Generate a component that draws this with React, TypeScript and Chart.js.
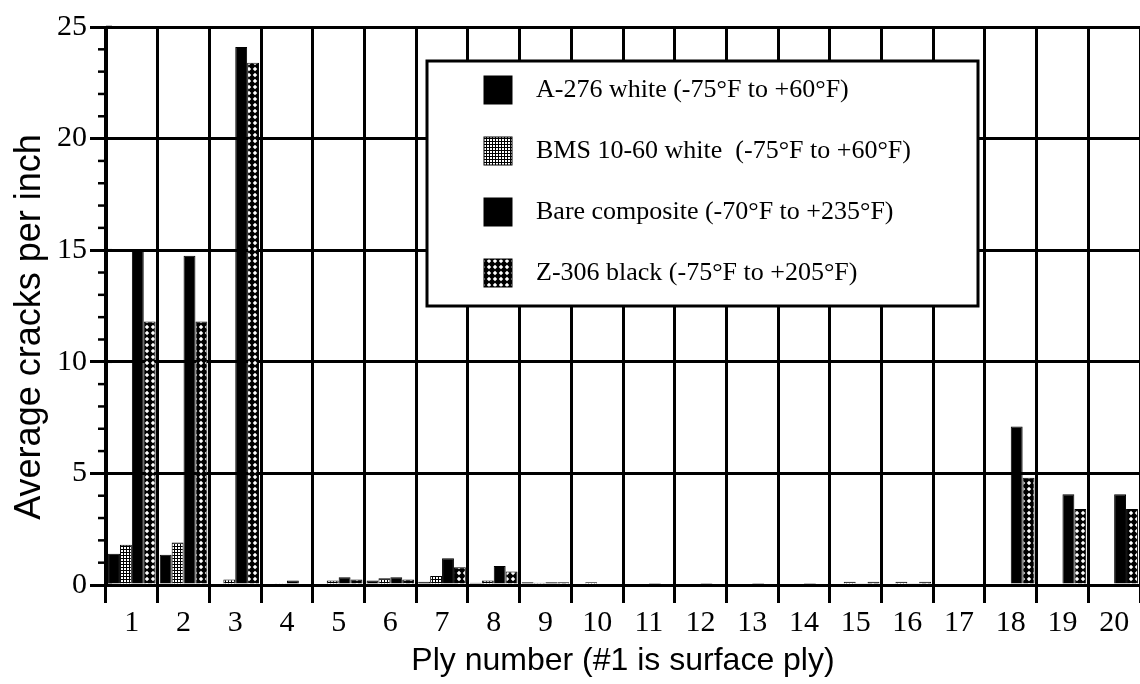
import React, { useEffect, useRef } from 'react';
import { Chart, registerables } from 'chart.js';

Chart.register(...registerables);

const plyLabels = ['1', '2', '3', '4', '5', '6', '7', '8', '9', '10', '11', '12', '13', '14', '15', '16', '17', '18', '19', '20'];
const a276White = [1.4, 1.35, 0, 0, 0, 0.2, 0.15, 0.1, 0.12, 0, 0, 0, 0, 0, 0, 0, 0, 0, 0, 0];
const bms1060White = [1.8, 1.9, 0.25, 0.08, 0.2, 0.3, 0.4, 0.2, 0.1, 0.12, 0, 0, 0, 0, 0.15, 0.15, 0, 0, 0, 0];
const bareComposite = [15.0, 14.75, 24.1, 0.2, 0.35, 0.35, 1.2, 0.85, 0.12, 0, 0.03, 0.03, 0.03, 0.03, 0.06, 0.06, 0, 7.1, 4.07, 4.07];
const z306Black = [11.8, 11.8, 23.4, 0, 0.25, 0.25, 0.8, 0.6, 0.12, 0, 0, 0, 0, 0, 0.15, 0.15, 0, 4.8, 3.4, 3.4];
const seriesNames = [
  'A-276 white (-75°F to +60°F)',
  'BMS 10-60 white  (-75°F to +60°F)',
  'Bare composite (-70°F to +235°F)',
  'Z-306 black (-75°F to +205°F)',
];
const xTitle = 'Ply number (#1 is surface ply)';
const yTitle = 'Average cracks per inch';
const yMin = 0;
const yMax = 25;
const yStep = 5;

function makeGridPattern(): CanvasPattern | string {
  const c = document.createElement('canvas');
  c.width = 3;
  c.height = 3;
  const g = c.getContext('2d');
  if (!g) return '#000';
  g.fillStyle = '#000';
  g.fillRect(0, 0, 3, 3);
  g.fillStyle = '#fff';
  g.fillRect(1, 1, 2, 2);
  return g.createPattern(c, 'repeat') || '#000';
}

function makeCrossPattern(): CanvasPattern | string {
  const c = document.createElement('canvas');
  c.width = 6;
  c.height = 6;
  const g = c.getContext('2d');
  if (!g) return '#000';
  g.fillStyle = '#000';
  g.fillRect(0, 0, 6, 6);
  g.fillStyle = '#fff';
  g.beginPath();
  g.moveTo(3, 0.8);
  g.lineTo(5.2, 3);
  g.lineTo(3, 5.2);
  g.lineTo(0.8, 3);
  g.closePath();
  g.fill();
  return g.createPattern(c, 'repeat') || '#000';
}

const axisExtras = {
  id: 'axisExtras',
  afterDraw(chart: any) {
    const y = chart.scales.y;
    const ctx = chart.ctx;
    ctx.save();
    ctx.strokeStyle = '#000';
    ctx.lineWidth = 2.5;
    for (let v = yMin; v <= yMax; v += 1) {
      const py = y.getPixelForValue(v);
      ctx.beginPath();
      if (v % yStep === 0) {
        ctx.moveTo(y.right, py);
        ctx.lineTo(y.right + 6, py);
      } else {
        ctx.moveTo(y.right - 8, py);
        ctx.lineTo(y.right, py);
      }
      ctx.stroke();
    }
    const cy = (y.top + y.bottom) / 2 + 21;
    ctx.translate(30, cy);
    ctx.rotate(-Math.PI / 2);
    ctx.fillStyle = '#000';
    ctx.font = '36px "Liberation Sans", Arial, sans-serif';
    ctx.textAlign = 'center';
    ctx.textBaseline = 'middle';
    ctx.fillText(yTitle, 0, 0);
    ctx.restore();
  },
};

const boxLegend = {
  id: 'boxLegend',
  afterDatasetsDraw(chart: any) {
    const ctx = chart.ctx;
    const left = 427;
    const top = 61;
    const width = 551;
    const height = 245;
    ctx.save();
    ctx.fillStyle = '#fff';
    ctx.fillRect(left, top, width, height);
    ctx.strokeStyle = '#000';
    ctx.lineWidth = 3;
    ctx.strokeRect(left, top, width, height);
    ctx.font = '26px "Liberation Serif", "Times New Roman", serif';
    ctx.textBaseline = 'middle';
    ctx.textAlign = 'left';
    chart.data.datasets.forEach((ds: any, i: number) => {
      const cy = top + 29 + i * 61;
      ctx.fillStyle = ds.backgroundColor;
      ctx.fillRect(484, cy - 14, 28, 28);
      ctx.lineWidth = 1;
      ctx.strokeRect(484, cy - 14, 28, 28);
      ctx.fillStyle = '#000';
      ctx.fillText(ds.label, 536, cy);
    });
    ctx.restore();
  },
};

export default function App() {
  const ref = useRef<HTMLCanvasElement | null>(null);

  useEffect(() => {
    document.body.style.margin = '0';
    const canvas = ref.current;
    if (!canvas) return;
    const gridPat = makeGridPattern();
    const crossPat = makeCrossPattern();
    const common = { borderColor: '#000', borderWidth: 1, categoryPercentage: 0.92, barPercentage: 1.0 };
    const chart = new Chart(canvas, {
      type: 'bar',
      data: {
        labels: plyLabels,
        datasets: [
          { label: seriesNames[0], data: a276White, backgroundColor: '#000', ...common },
          { label: seriesNames[1], data: bms1060White, backgroundColor: gridPat as any, ...common },
          { label: seriesNames[2], data: bareComposite, backgroundColor: '#000', ...common },
          { label: seriesNames[3], data: z306Black, backgroundColor: crossPat as any, ...common },
        ],
      },
      options: {
        responsive: false,
        animation: false,
        layout: { padding: { top: 27, right: 0, left: 0, bottom: 0 } },
        plugins: { legend: { display: false }, tooltip: { enabled: false } },
        scales: {
          x: {
            grid: { offset: true, color: '#000', lineWidth: 3, tickLength: 18, drawTicks: true, tickColor: '#000', tickWidth: 3 },
            border: { color: '#000', width: 3 },
            ticks: { color: '#000', font: { family: '"Liberation Serif", serif', size: 30 }, padding: 2, maxRotation: 0, autoSkip: false },
            title: { display: true, text: xTitle, color: '#000', font: { family: '"Liberation Sans", Arial, sans-serif', size: 32 }, padding: { top: 0, bottom: 4 } },
            afterFit: (s: any) => { s.height = 99; },
          },
          y: {
            min: yMin,
            max: yMax,
            grid: { color: '#000', lineWidth: 3, tickLength: 16, drawTicks: true, tickColor: '#000', tickWidth: 3 },
            border: { color: '#000', width: 3 },
            ticks: { stepSize: yStep, color: '#000', font: { family: '"Liberation Serif", serif', size: 30 }, padding: 3 },
            afterFit: (s: any) => { s.width = 106; },
          },
        },
      },
      plugins: [axisExtras, boxLegend],
    });
    return () => chart.destroy();
  }, []);

  return (
    <div style={{ width: 1140, height: 684 }}>
      <canvas ref={ref} width={1140} height={684} style={{ display: 'block' }} />
    </div>
  );
}
